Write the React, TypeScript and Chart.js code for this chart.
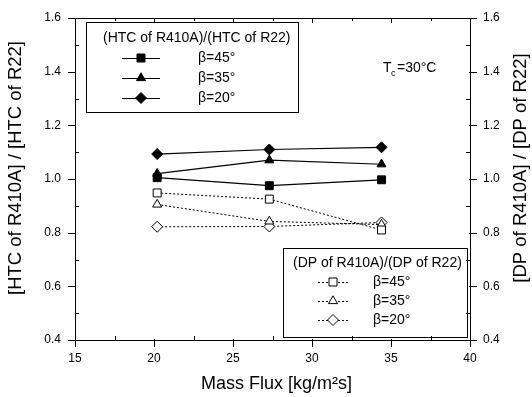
import React, { useEffect, useRef } from "react";
import { Chart, registerables } from "chart.js";

Chart.register(...registerables);

const massFlux = [20.2, 27.3, 34.4];
const htc45 = [1.005, 0.975, 0.997];
const htc35 = [1.02, 1.07, 1.055];
const htc20 = [1.093, 1.11, 1.118];
const dp45 = [0.948, 0.925, 0.81];
const dp35 = [0.905, 0.842, 0.83];
const dp20 = [0.822, 0.823, 0.838];

const xTicks = [15, 20, 25, 30, 35, 40];
const yTicks = [0.4, 0.6, 0.8, 1.0, 1.2, 1.4, 1.6];

const xTitle = "Mass Flux [kg/m²s]";
const yTitle = "[HTC of R410A] / [HTC of R22]";
const y1Title = "[DP of R410A] / [DP of R22]";
const htcLegendTitle = "(HTC of R410A)/(HTC of R22)";
const dpLegendTitle = "(DP of R410A)/(DP of R22)";
const betaLabels = ["β=45°", "β=35°", "β=20°"];
const markerStyles = ["rect", "triangle", "rectRot"];

const FONT = '"Liberation Sans", Arial, sans-serif';

function drawMarker(ctx: CanvasRenderingContext2D, style: string, x: number, y: number, filled: boolean) {
  ctx.beginPath();
  if (style === "rect") {
    const s = 4;
    ctx.rect(x - s, y - s, 2 * s, 2 * s);
  } else if (style === "triangle") {
    const r = 5.2;
    ctx.moveTo(x, y - r);
    ctx.lineTo(x + r * 0.866, y + r * 0.5);
    ctx.lineTo(x - r * 0.866, y + r * 0.5);
    ctx.closePath();
  } else {
    const r = 5.5;
    ctx.moveTo(x, y - r);
    ctx.lineTo(x + r, y);
    ctx.lineTo(x, y + r);
    ctx.lineTo(x - r, y);
    ctx.closePath();
  }
  ctx.fillStyle = filled ? "#000" : "#fff";
  ctx.fill();
  ctx.strokeStyle = "#000";
  ctx.lineWidth = 1;
  ctx.stroke();
}

const decorPlugin = {
  id: "decor",
  afterDraw(chart: any) {
    const ctx: CanvasRenderingContext2D = chart.ctx;
    const { left, right, top, bottom } = chart.chartArea;
    const xs = chart.scales.x;
    const ys = chart.scales.y;
    ctx.save();
    ctx.strokeStyle = "#000";
    ctx.lineWidth = 1;
    // frame
    ctx.strokeRect(Math.round(left) + 0.5, Math.round(top) + 0.5, Math.round(right - left), Math.round(bottom - top));

    // ticks: major outward, minor inward
    ctx.beginPath();
    yTicks.forEach((v, i) => {
      const py = Math.round(ys.getPixelForValue(v)) + 0.5;
      ctx.moveTo(left - 7, py); ctx.lineTo(left + 1, py);
      ctx.moveTo(right - 1, py); ctx.lineTo(right + 7, py);
      if (i < yTicks.length - 1) {
        const m = (v + yTicks[i + 1]) / 2;
        const pm = Math.round(ys.getPixelForValue(m)) + 0.5;
        ctx.moveTo(left, pm); ctx.lineTo(left + 4, pm);
        ctx.moveTo(right, pm); ctx.lineTo(right - 4, pm);
      }
    });
    xTicks.forEach((v, i) => {
      const px = Math.round(xs.getPixelForValue(v)) + 0.5;
      ctx.moveTo(px, bottom - 1); ctx.lineTo(px, bottom + 7);
      ctx.moveTo(px, top); ctx.lineTo(px, top + 5);
      if (i < xTicks.length - 1) {
        const m = (v + xTicks[i + 1]) / 2;
        const pm = Math.round(xs.getPixelForValue(m)) + 0.5;
        ctx.moveTo(pm, bottom); ctx.lineTo(pm, bottom - 4);
        ctx.moveTo(pm, top); ctx.lineTo(pm, top + 3);
      }
    });
    ctx.stroke();

    ctx.fillStyle = "#000";
    // axis titles
    ctx.font = `18px ${FONT}`;
    ctx.textAlign = "center";
    ctx.textBaseline = "middle";
    ctx.fillText(xTitle, (left + right) / 2 + 4, 384);
    ctx.save();
    ctx.translate(16, 168);
    ctx.rotate(-Math.PI / 2);
    ctx.font = `18.5px ${FONT}`;
    ctx.fillText(yTitle, 0, 0);
    ctx.restore();
    ctx.save();
    ctx.translate(521, 168);
    ctx.rotate(-Math.PI / 2);
    ctx.font = `18.5px ${FONT}`;
    ctx.fillText(y1Title, 0, 0);
    ctx.restore();

    // Tc annotation
    ctx.textAlign = "left";
    ctx.textBaseline = "alphabetic";
    ctx.font = `14px ${FONT}`;
    ctx.fillText("T", 383, 72);
    ctx.font = `9px ${FONT}`;
    ctx.fillText("c", 391, 76);
    ctx.font = `14px ${FONT}`;
    ctx.fillText("=30°C", 397, 72);

    // HTC legend
    ctx.lineWidth = 1;
    ctx.strokeRect(86.5, 22.5, 212, 90);
    ctx.font = `14px ${FONT}`;
    ctx.textBaseline = "middle";
    ctx.fillText(htcLegendTitle, 103, 38);
    const ly1 = [58, 78, 98];
    ly1.forEach((yy, i) => {
      ctx.beginPath();
      ctx.strokeStyle = "#000";
      ctx.lineWidth = 1;
      ctx.setLineDash([]);
      ctx.moveTo(122, yy + 0.5); ctx.lineTo(160, yy + 0.5);
      ctx.stroke();
      drawMarker(ctx, markerStyles[i], 141, yy, true);
      ctx.fillStyle = "#000";
      ctx.fillText(betaLabels[i], 198, yy);
    });

    // DP legend
    ctx.strokeStyle = "#000";
    ctx.strokeRect(283.5, 248.5, 184, 89);
    ctx.fillStyle = "#000";
    ctx.fillText(dpLegendTitle, 293, 263);
    const ly2 = [282, 301, 320];
    ly2.forEach((yy, i) => {
      ctx.beginPath();
      ctx.strokeStyle = "#000";
      ctx.lineWidth = 1;
      ctx.setLineDash([2, 2]);
      ctx.moveTo(318, yy + 0.5); ctx.lineTo(350, yy + 0.5);
      ctx.stroke();
      ctx.setLineDash([]);
      drawMarker(ctx, markerStyles[i], 333, yy, false);
      ctx.fillStyle = "#000";
      ctx.fillText(betaLabels[i], 373, yy);
    });
    ctx.restore();
  },
};

function pts(ys: number[]) {
  return massFlux.map((x, i) => ({ x, y: ys[i] }));
}

export default function App() {
  const ref = useRef<HTMLCanvasElement | null>(null);
  useEffect(() => {
    document.body.style.margin = "0";
    const canvas = ref.current!;
    const solid = (data: number[], style: string, r: number) => ({
      data: pts(data),
      showLine: true,
      borderColor: "#000",
      borderWidth: 1.2,
      pointStyle: style,
      pointRadius: r,
      pointBackgroundColor: "#000",
      pointBorderColor: "#000",
      pointBorderWidth: 1,
      yAxisID: "y",
    });
    const dotted = (data: number[], style: string, r: number) => ({
      data: pts(data),
      showLine: true,
      borderColor: "#000",
      borderWidth: 1,
      borderDash: [2, 2],
      pointStyle: style,
      pointRadius: r,
      pointBackgroundColor: "#fff",
      pointBorderColor: "#000",
      pointBorderWidth: 1,
      yAxisID: "y",
    });
    const tickFont = { family: FONT, size: 12 };
    const chart = new Chart(canvas, {
      type: "scatter",
      data: {
        datasets: [
          dotted(dp45, "rect", 5.6),
          dotted(dp35, "triangle", 5.2),
          dotted(dp20, "rectRot", 5.5),
          solid(htc45, "rect", 5.6),
          solid(htc35, "triangle", 5.2),
          solid(htc20, "rectRot", 5.5),
        ] as any,
      },
      options: {
        animation: false,
        responsive: false,
        devicePixelRatio: 1,
        layout: { padding: { top: 18, left: 0, right: 0, bottom: 0 } },
        plugins: { legend: { display: false }, tooltip: { enabled: false } },
        scales: {
          x: {
            type: "linear",
            min: 15,
            max: 40,
            grid: { display: false },
            border: { display: false },
            afterBuildTicks: (s: any) => { s.ticks = xTicks.map((v) => ({ value: v })); },
            afterFit: (s: any) => { s.height = 57; },
            ticks: { color: "#000", font: tickFont, padding: 3, maxRotation: 0, callback: (v: any) => String(v) },
          },
          y: {
            type: "linear",
            position: "left",
            min: 0.4,
            max: 1.6,
            grid: { display: false },
            border: { display: false },
            afterBuildTicks: (s: any) => { s.ticks = yTicks.map((v) => ({ value: v })); },
            afterFit: (s: any) => { s.width = 75; },
            ticks: { color: "#000", font: tickFont, padding: 6, callback: (v: any) => Number(v).toFixed(1) },
          },
          y1: {
            type: "linear",
            position: "right",
            min: 0.4,
            max: 1.6,
            grid: { display: false },
            border: { display: false },
            afterBuildTicks: (s: any) => { s.ticks = yTicks.map((v) => ({ value: v })); },
            afterFit: (s: any) => { s.width = 62; },
            ticks: { color: "#000", font: tickFont, padding: 5, callback: (v: any) => Number(v).toFixed(1) },
          },
        },
      } as any,
      plugins: [decorPlugin],
    });
    return () => chart.destroy();
  }, []);
  return <canvas ref={ref} width={532} height={397} style={{ display: "block", width: 532, height: 397 }} />;
}
